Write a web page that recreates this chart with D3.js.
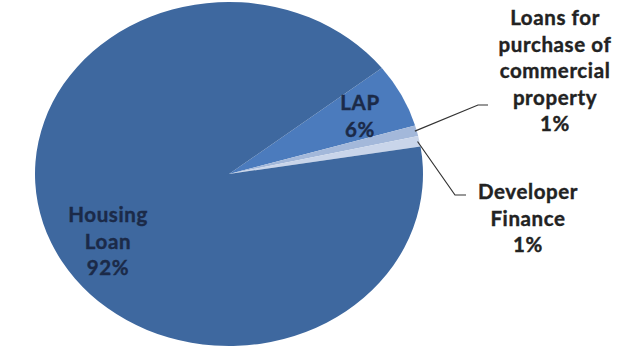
<!DOCTYPE html>
<html>
<head>
<meta charset="utf-8">
<script src="https://cdn.jsdelivr.net/npm/d3@7"></script>
<style>
  body { margin: 0; background: #fff; }
  text { font-family: Lato, "Open Sans", sans-serif; font-weight: bold; }
</style>
</head>
<body>
<svg id="chart"></svg>
<script>
// slice order is clockwise from the LAP slice
const categories = ['LAP', 'Loans for purchase of commercial property', 'Developer Finance', 'Housing Loan'];
const shares = [6, 1, 1, 92];
const labelLines = [
	['LAP', '6%'],
	['Loans for', 'purchase of', 'commercial', 'property', '1%'],
	['Developer', 'Finance', '1%'],
	['Housing', 'Loan', '92%']
];
const colours = ['#4b7bbd', '#a3b8da', '#c9d5ea', '#3e689f'];

const width = 619, height = 346;
const cx = 229, cy = 174;
const rx = 194, ry = 172;

const svg = d3.select('#chart')
	.attr('width', width)
	.attr('height', height);

const data = categories.map((c, i) => ({ name: c, value: shares[i], lines: labelLines[i], colour: colours[i] }));

const start = 52 * Math.PI / 180;
const pie = d3.pie()
	.sort(null)
	.value(d => d.value)
	.startAngle(start)
	.endAngle(start + 2 * Math.PI);

const arc = d3.arc().innerRadius(0).outerRadius(ry);

// pie is stretched sideways into an ellipse
const pieG = svg.append('g')
	.attr('transform', `translate(${cx},${cy}) scale(${rx / ry},1)`);

pieG.selectAll('path')
	.data(pie(data))
	.join('path')
	.attr('d', arc)
	.attr('fill', d => d.data.colour);

// point on the ellipse for a given pie angle
function edge(a, k) {
	return [cx + Math.sin(a) * rx * k, cy - Math.cos(a) * ry * k];
}

const arcs = pie(data);
const mid = d => (d.startAngle + d.endAngle) / 2;

// label placements (centre of the text block)
const labelPos = [
	{ x: 360, y: 103, fill: '#1b2a48' },
	{ x: 555, y: 18, fill: '#222' },
	{ x: 528, y: 192, fill: '#222' },
	{ x: 108, y: 215, fill: '#1b2a48' }
];
const lineH = 26.5;

arcs.forEach((d, i) => {
	const p = labelPos[i];
	const t = svg.append('text')
		.attr('text-anchor', 'middle')
		.attr('font-size', 20.5)
		.attr('letter-spacing', 0.6)
		.attr('fill', p.fill)
		.attr('stroke', p.fill)
		.attr('stroke-width', 0.4);
	d.data.lines.forEach((s, j) => {
		t.append('tspan')
			.attr('x', p.x)
			.attr('y', p.y + j * lineH)
			.attr('dy', '0.35em')
			.text(s);
	});
});

// leader lines for the two thin slices
const leaders = [
	{ i: 1, elbow: [478, 105], end: [488, 105] },
	{ i: 2, elbow: [455, 195], end: [466, 195] }
];
leaders.forEach(l => {
	const p0 = edge(mid(arcs[l.i]), 0.99);
	svg.append('path')
		.attr('d', d3.line()([p0, l.elbow, l.end]))
		.attr('fill', 'none')
		.attr('stroke', '#333')
		.attr('stroke-width', 1.2);
});
</script>
</body>
</html>
